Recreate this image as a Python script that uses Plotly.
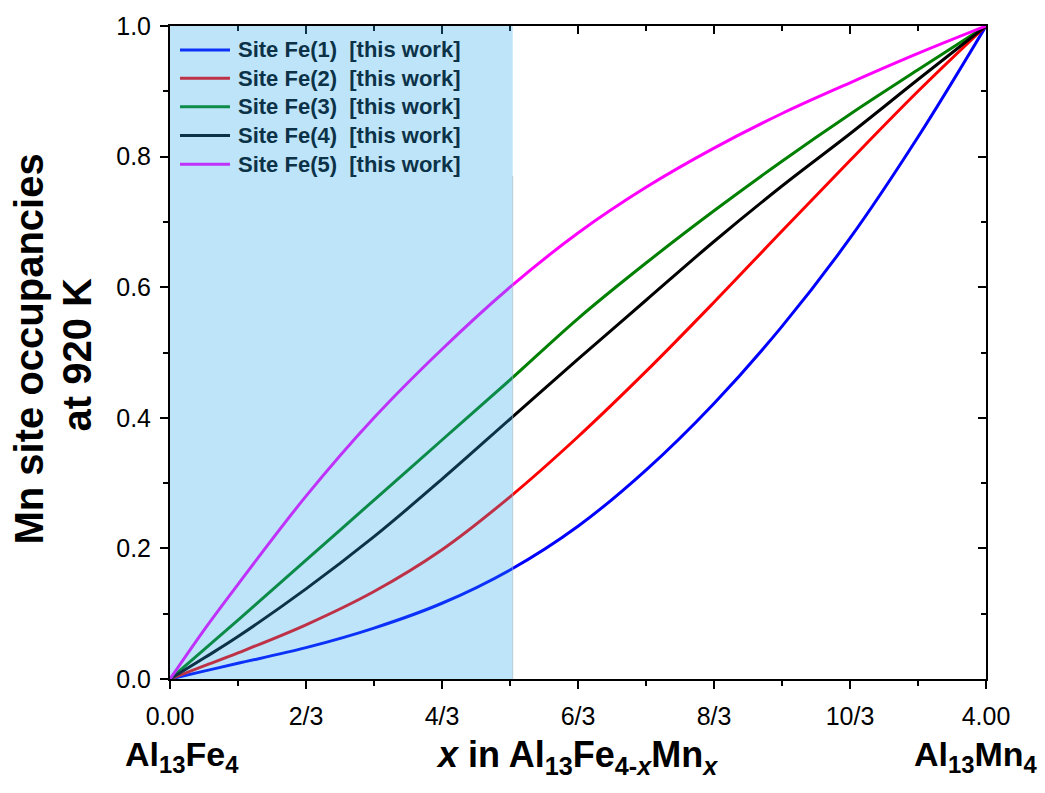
import plotly.graph_objects as go

# Composition x in Al13Fe(4-x)Mn(x)
x_comp = [0, 1/6, 1/3, 2/3, 1, 4/3, 5/3, 2, 7/3, 8/3, 3, 10/3, 11/3, 4]

# Mn occupancy of each Fe site at 920 K
fe1 = [0, 0.012, 0.024, 0.048, 0.078, 0.116, 0.167, 0.234, 0.320, 0.422, 0.540, 0.675, 0.830, 1.0]
fe2 = [0, 0.020, 0.040, 0.083, 0.134, 0.198, 0.279, 0.371, 0.471, 0.577, 0.686, 0.794, 0.900, 1.0]
fe3 = [0, 0.045, 0.090, 0.182, 0.274, 0.366, 0.458, 0.552, 0.637, 0.717, 0.793, 0.865, 0.933, 1.0]
fe4 = [0, 0.032, 0.065, 0.138, 0.218, 0.306, 0.398, 0.490, 0.580, 0.670, 0.755, 0.835, 0.918, 1.0]
fe5 = [0, 0.075, 0.145, 0.280, 0.400, 0.505, 0.600, 0.683, 0.753, 0.813, 0.866, 0.913, 0.958, 1.0]

series_names = ["Site Fe(1)\u00a0\u00a0[this work]", "Site Fe(2)\u00a0\u00a0[this work]", "Site Fe(3)\u00a0\u00a0[this work]",
                "Site Fe(4)\u00a0\u00a0[this work]", "Site Fe(5)\u00a0\u00a0[this work]"]
series_values = [fe1, fe2, fe3, fe4, fe5]
line_colors = ["#0000FF", "#FF0000", "#008000", "#000000", "#FF00FF"]
# colours as seen through the translucent blue band (the key sits inside it)
legend_colors = ["#0C32FA", "#BE3248", "#0C8C48", "#0C3248", "#BE32FA"]

x_tick_vals = [0, 2/3, 4/3, 2, 8/3, 10/3, 4]
x_tick_text = ["0.00", "2/3", "4/3", "6/3", "8/3", "10/3", "4.00"]
x_minor_vals = [1/3, 1, 5/3, 7/3, 3, 11/3]
y_tick_vals = [0, 0.2, 0.4, 0.6, 0.8, 1.0]
y_tick_text = ["0.0", "0.2", "0.4", "0.6", "0.8", "1.0"]
y_minor_vals = [0.1, 0.3, 0.5, 0.7, 0.9]
band_end = 1.68

FONT = "Liberation Sans, Arial, sans-serif"
PLOT_L, PLOT_T, PLOT_W, PLOT_H = 170, 23, 816, 656


def px_x(p):
    return (p - PLOT_L) / PLOT_W


def px_y(p):
    return (PLOT_T + PLOT_H - p) / PLOT_H


fig = go.Figure()

for name, vals, col in zip(series_names, series_values, line_colors):
    fig.add_trace(go.Scatter(x=x_comp, y=vals, mode="lines", name=name,
                             line=dict(color=col, width=3, shape="spline", smoothing=1.0),
                             showlegend=False, hoverinfo="skip"))

# translucent band over the low-Mn region
fig.add_shape(type="rect", xref="x", yref="y", x0=0, x1=band_end, y0=0, y1=1,
              fillcolor="rgba(40,167,240,0.3)", line=dict(width=0), layer="above")
fig.add_shape(type="line", xref="x", yref="y", x0=band_end, x1=band_end, y0=0, y1=0.77,
              line=dict(color="rgba(160,180,190,0.6)", width=1), layer="above")

# key: sample line + label for every site
key_rows = [47, 75.5, 104, 133, 162]
for row, name, col in zip(key_rows, series_names, legend_colors):
    fig.add_shape(type="line", xref="paper", yref="paper", x0=px_x(180), x1=px_x(230),
                  y0=px_y(row), y1=px_y(row), line=dict(color=col, width=3), layer="above")
    fig.add_annotation(text=name, xref="paper", yref="paper", x=px_x(236), y=px_y(row),
                       xanchor="left", yanchor="middle", showarrow=False,
                       font=dict(family=FONT, size=22, color="#0C3248", weight="bold"))

axis_font = dict(family=FONT, size=25, color="black")
tick_common = dict(tickwidth=2, tickcolor="black", showgrid=False, zeroline=False)

fig.update_layout(
    width=1045, height=793,
    margin=dict(l=170, r=59, t=23, b=114),
    paper_bgcolor="white", plot_bgcolor="white",
    font=dict(family=FONT, color="black"),
    showlegend=False,
    xaxis=dict(range=[0, 4], tickmode="array", tickvals=x_tick_vals, ticktext=x_tick_text,
               ticks="outside", ticklen=8, ticklabelstandoff=6,
               minor=dict(tickmode="array", tickvals=x_minor_vals, ticks="outside", ticklen=5, tickwidth=2, tickcolor="black"),
               showline=True, linewidth=2, linecolor="black", mirror=True, tickfont=axis_font, **tick_common),
    yaxis=dict(range=[0, 1], tickmode="array", tickvals=y_tick_vals, ticktext=y_tick_text,
               ticks="outside", ticklen=8, ticklabelstandoff=4,
               minor=dict(tickmode="array", tickvals=y_minor_vals, ticks="outside", ticklen=5, tickwidth=2, tickcolor="black"),
               showline=True, linewidth=2, linecolor="black", mirror=True, tickfont=axis_font, **tick_common),
    xaxis2=dict(overlaying="x", side="top", range=[0, 4], tickmode="array", tickvals=x_tick_vals,
                showticklabels=False, ticks="inside", ticklen=8, showline=False,
                minor=dict(tickmode="array", tickvals=x_minor_vals, ticks="inside", ticklen=5, tickwidth=2, tickcolor="black"),
                **tick_common),
    yaxis2=dict(overlaying="y", side="right", range=[0, 1], tickmode="array", tickvals=y_tick_vals,
                showticklabels=False, ticks="inside", ticklen=8, showline=False,
                minor=dict(tickmode="array", tickvals=y_minor_vals, ticks="inside", ticklen=5, tickwidth=2, tickcolor="black"),
                **tick_common),
)

# invisible trace that activates the mirrored tick axes
fig.add_trace(go.Scatter(x=[None], y=[None], xaxis="x2", yaxis="y2", showlegend=False, hoverinfo="skip"))

title_font = dict(family=FONT, size=40, color="black", weight="bold")
fig.add_annotation(text="Mn site occupancies", xref="paper", yref="paper",
                   x=px_x(29), y=px_y(348), xanchor="center", yanchor="middle",
                   textangle=-90, showarrow=False, font=title_font)
fig.add_annotation(text="at 920 K", xref="paper", yref="paper",
                   x=px_x(77), y=px_y(353), xanchor="center", yanchor="middle",
                   textangle=-90, showarrow=False, font=title_font)

bold = dict(family=FONT, size=34, color="black", weight="bold")
fig.add_annotation(text="Al<sub>13</sub>Fe<sub>4</sub>", xref="paper", yref="paper",
                   x=px_x(123), y=px_y(757), xanchor="left", yanchor="middle",
                   showarrow=False, font=bold)
fig.add_annotation(text="<i>x</i> in Al<sub>13</sub>Fe<sub>4-<i>x</i></sub>Mn<sub><i>x</i></sub>", xref="paper", yref="paper",
                   x=px_x(577), y=px_y(757), xanchor="center", yanchor="middle",
                   showarrow=False, font=dict(family=FONT, size=36, color="black", weight="bold"))
fig.add_annotation(text="Al<sub>13</sub>Mn<sub>4</sub>", xref="paper", yref="paper",
                   x=px_x(1040), y=px_y(757), xanchor="right", yanchor="middle",
                   showarrow=False, font=bold)

fig.write_html("out.html")
